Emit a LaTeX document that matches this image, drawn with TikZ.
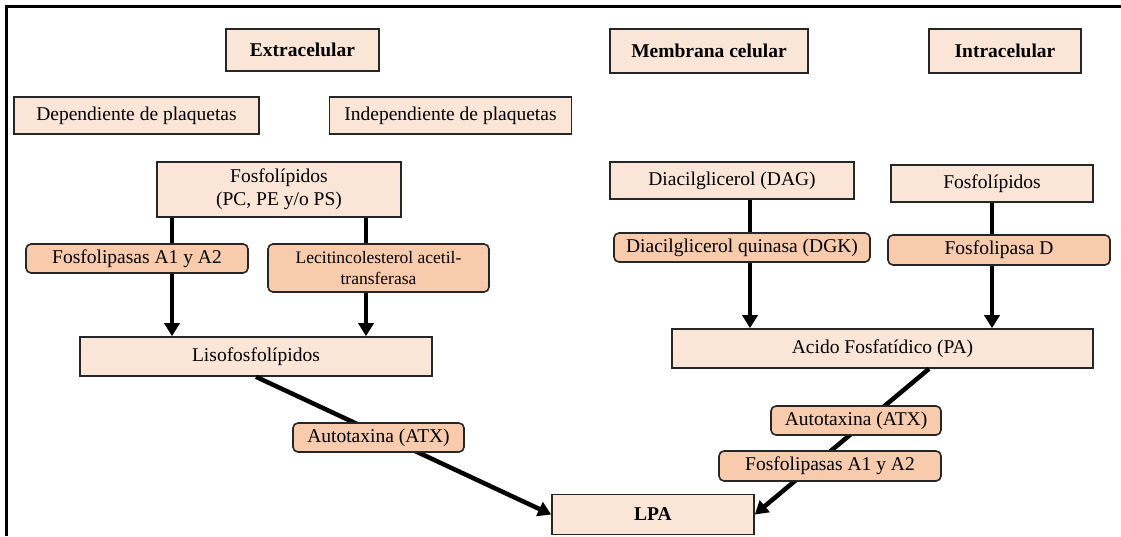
\documentclass[tikz,border=0pt]{standalone}
\usepackage{fontspec}
\setmainfont{Liberation Serif}
\usepackage{tikz}
\usetikzlibrary{arrows.meta}

\definecolor{lightpeach}{HTML}{FBE5D6}
\definecolor{darkpeach}{HTML}{F8CBAD}

\begin{document}
\begin{tikzpicture}[x=1pt, y=-1pt,
    every node/.style={font=\fontsize{19.5}{23}\selectfont, inner sep=0pt},
    box/.style={draw=black!85, line width=1.6pt, fill=lightpeach, align=center},
    enzyme/.style={box, fill=darkpeach, rounded corners=5pt},
    arr/.style={line width=4.5pt, -{Triangle[length=13pt, width=15pt]}}]
      \useasboundingbox (0,0) rectangle (1121,536);
      % frame
      \draw[line width=3pt] (6.5,536) -- (6.5,6.5) -- (1121,6.5);
      % headers
      \node[box, minimum width=153, minimum height=42, font=\fontsize{19.5}{23}\selectfont\bfseries] (ext) at (302.5,50) {Extracelular};
      \node[box, minimum width=198, minimum height=44, font=\fontsize{19.5}{23}\selectfont\bfseries] (mem) at (709,51) {Membrana celular};
      \node[box, minimum width=152, minimum height=44, font=\fontsize{19.5}{23}\selectfont\bfseries] (intra) at (1005,51) {Intracelular};
      \node[box, minimum width=245, minimum height=37] (dep) at (136.5,115.5) {Dependiente de plaquetas};
      \node[box, minimum width=242, minimum height=37] (indep) at (450.5,115.5) {Independiente de plaquetas};
      % substrates and products
      \node[box, minimum width=244, minimum height=55] (fos) at (279,189.5) {Fosfolípidos\\(PC, PE y/o PS)};
      \node[box, minimum width=352, minimum height=39] (liso) at (256,356.5) {Lisofosfolípidos};
      \node[box, minimum width=244, minimum height=37] (dag) at (732,180.5) {Diacilglicerol (DAG)};
      \node[box, minimum width=202, minimum height=37] (fos2) at (992,183.5) {Fosfolípidos};
      \node[box, minimum width=421, minimum height=39] (pa) at (882.5,348.5) {Acido Fosfatídico (PA)};
      \node[box, minimum width=202, minimum height=40, font=\fontsize{19.5}{23}\selectfont\bfseries] (lpa) at (653,514.5) {LPA};
      % connectors
      \coordinate (c1) at (172,0);
      \coordinate (c2) at (366,0);
      \coordinate (c3) at (750,0);
      \coordinate (c4) at (929,0);
      \draw[arr] (fos.south -| c1) -- (liso.north -| c1);
      \draw[arr] (fos.south -| c2) -- (liso.north -| c2);
      \draw[arr] (dag.south -| c3) -- (pa.north -| c3);
      \draw[arr] (fos2.south) -- (fos2.south |- pa.north);
      \draw[arr] (liso.south) -- (lpa.west);
      \draw[arr] (pa.south -| c4) -- (lpa.east);
      % enzymes
      \node[enzyme, minimum width=222, minimum height=29] (fla1) at (137,258.5) {Fosfolipasas A1 y A2};
      \node[enzyme, minimum width=221, minimum height=48, font=\fontsize{17.5}{21}\selectfont] (lcat) at (378.5,268) {Lecitincolesterol acetil-\\transferasa};
      \node[enzyme, minimum width=171, minimum height=29] (atx1) at (378.5,437.5) {Autotaxina (ATX)};
      \node[enzyme, minimum width=256, minimum height=29] (dgk) at (742,247.5) {Diacilglicerol quinasa (DGK)};
      \node[enzyme, minimum width=222, minimum height=30] (fld) at (999,250) {Fosfolipasa D};
      \node[enzyme, minimum width=170, minimum height=29] (atx2) at (856,420.5) {Autotaxina (ATX)};
      \node[enzyme, minimum width=222, minimum height=30] (fla2) at (830,466) {Fosfolipasas A1 y A2};
    \end{tikzpicture}
\end{document}
